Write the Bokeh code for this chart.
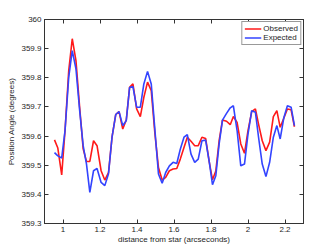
from bokeh.plotting import figure
from bokeh.models import LinearAxis, FixedTicker, CustomJSTickFormatter, Legend, LegendItem, Range1d
from bokeh.embed import file_html
from bokeh.resources import INLINE

distance = [0.954, 0.972, 0.993, 1.011, 1.031, 1.050, 1.070, 1.090, 1.109, 1.127,
            1.145, 1.165, 1.184, 1.206, 1.226, 1.246, 1.265, 1.285, 1.303, 1.323,
            1.342, 1.360, 1.378, 1.398, 1.418, 1.437, 1.457, 1.477, 1.497, 1.516,
            1.536, 1.555, 1.575, 1.595, 1.615, 1.634, 1.654, 1.672, 1.692, 1.712,
            1.731, 1.751, 1.771, 1.791, 1.808, 1.826, 1.844, 1.862, 1.884, 1.904,
            1.921, 1.941, 1.961, 1.981, 2.000, 2.020, 2.040, 2.057, 2.077, 2.097,
            2.117, 2.137, 2.156, 2.174, 2.194, 2.213, 2.233, 2.251]

observed = [359.587, 359.559, 359.467, 359.619, 359.825, 359.934, 359.859, 359.699, 359.556, 359.513,
            359.513, 359.584, 359.567, 359.481, 359.449, 359.475, 359.596, 359.674, 359.684, 359.624,
            359.655, 359.767, 359.779, 359.693, 359.667, 359.733, 359.785, 359.756, 359.607, 359.492,
            359.449, 359.458, 359.481, 359.487, 359.489, 359.521, 359.561, 359.596, 359.582, 359.567,
            359.567, 359.596, 359.592, 359.510, 359.450, 359.480, 359.584, 359.655, 359.651, 359.639,
            359.667, 359.647, 359.573, 359.541, 359.619, 359.684, 359.693, 359.641, 359.584, 359.550,
            359.579, 359.667, 359.687, 359.630, 359.662, 359.693, 359.690, 359.632]

expected = [359.543, 359.532, 359.525, 359.619, 359.802, 359.893, 359.831, 359.688, 359.567, 359.504,
            359.407, 359.481, 359.489, 359.441, 359.430, 359.471, 359.596, 359.674, 359.684, 359.636,
            359.653, 359.767, 359.770, 359.699, 359.699, 359.779, 359.822, 359.779, 359.619, 359.470,
            359.438, 359.475, 359.498, 359.510, 359.506, 359.555, 359.596, 359.605, 359.538, 359.510,
            359.521, 359.584, 359.586, 359.510, 359.433, 359.464, 359.573, 359.655, 359.678, 359.697,
            359.704, 359.619, 359.498, 359.504, 359.607, 359.687, 359.682, 359.596, 359.504, 359.461,
            359.510, 359.596, 359.636, 359.590, 359.664, 359.704, 359.699, 359.636]

x_ticks = [1.0, 1.2, 1.4, 1.6, 1.8, 2.0, 2.2]
y_ticks = [359.3, 359.4, 359.5, 359.6, 359.7, 359.8, 359.9, 360.0]

assert len(distance) == len(observed) == len(expected)

FONT = "Liberation Sans"
TXT = "#262626"
AX = "#333333"

p = figure(width=335, height=251, output_backend="svg", toolbar_location=None,
           x_range=Range1d(0.9, 2.3), y_range=Range1d(359.3, 360.0),
           min_border_left=44, min_border_right=32, min_border_top=19, min_border_bottom=28)
p.grid.visible = False
p.outline_line_color = AX
p.background_fill_color = "white"
p.border_fill_color = "white"

fmt = CustomJSTickFormatter(code="return (Math.round(tick*10)/10).toString();")
blank = CustomJSTickFormatter(code="return '';")

def style(ax, ticks, labels=True):
    ax.ticker = FixedTicker(ticks=ticks)
    ax.formatter = fmt if labels else blank
    ax.major_tick_in = 4
    ax.major_tick_out = 0
    ax.minor_tick_line_color = None
    ax.axis_line_color = AX
    ax.major_tick_line_color = AX
    ax.major_label_text_font = FONT
    ax.major_label_text_color = TXT
    ax.major_label_text_font_size = "8px"
    ax.major_label_standoff = 3 if labels else 0
    ax.axis_label_text_font = FONT
    ax.axis_label_text_font_style = "normal"
    ax.axis_label_text_color = TXT
    ax.axis_label_text_font_size = "8px"
    ax.axis_label_standoff = 2

style(p.xaxis[0], x_ticks)
style(p.yaxis[0], y_ticks)
p.xaxis[0].axis_label = "distance from star (arcseconds)"
p.xaxis[0].axis_label_standoff = 0
p.yaxis[0].axis_label = "Position Angle (degrees)"

right = LinearAxis()
style(right, y_ticks, labels=False)
p.add_layout(right, "right")
top = LinearAxis()
style(top, x_ticks, labels=False)
p.add_layout(top, "above")

r1 = p.line(distance, observed, line_color="#ff1a1a", line_width=1.6)
r2 = p.line(distance, expected, line_color="#3344ff", line_width=1.6)

legend = Legend(items=[LegendItem(label="Observed", renderers=[r1]),
                       LegendItem(label="Expected", renderers=[r2])],
                location="top_right")
legend.label_text_font = FONT
legend.label_text_font_size = "8px"
legend.label_text_color = TXT
legend.label_height = 9
legend.glyph_height = 9
legend.glyph_width = 17
legend.label_standoff = 2
legend.spacing = 0
legend.padding = 2
legend.margin = 2
legend.border_line_color = AX
legend.border_line_width = 1
legend.background_fill_alpha = 1
p.add_layout(legend)

open("out.html", "w").write(file_html(p, INLINE))
